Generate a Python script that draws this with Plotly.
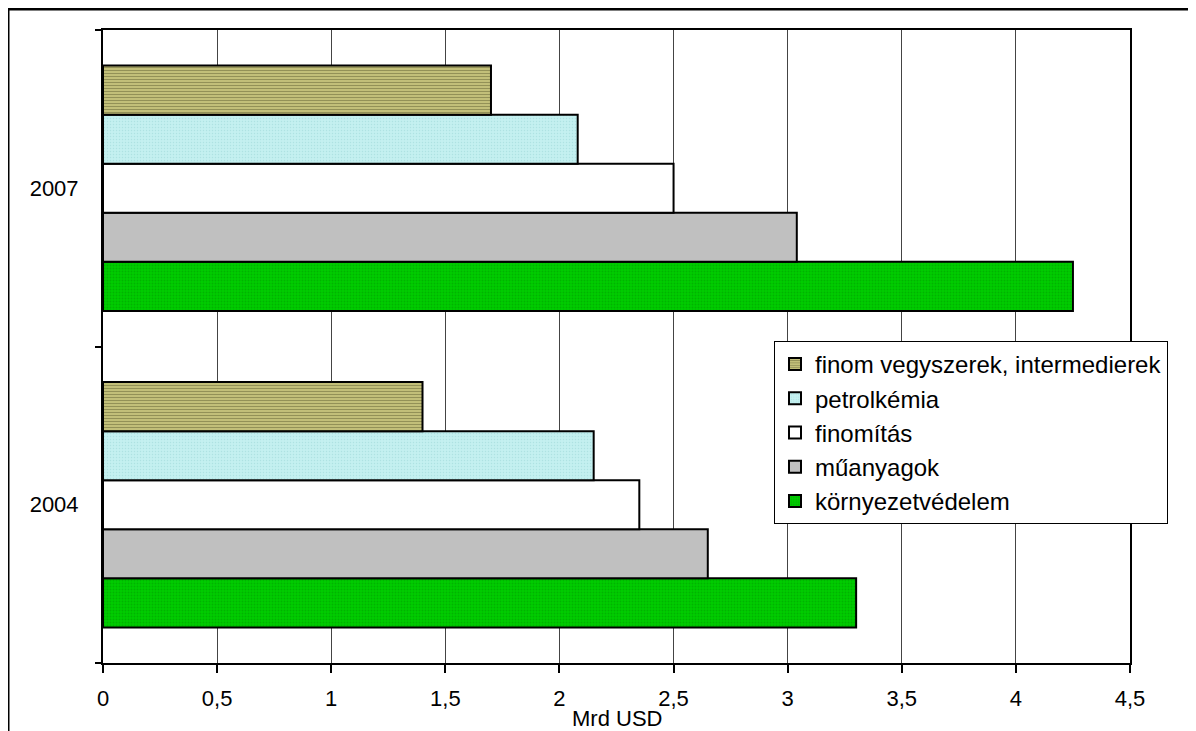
import plotly.graph_objects as go

years = ["2004", "2007"]
series_names = ["környezetvédelem", "műanyagok", "finomítás", "petrolkémia",
                "finom vegyszerek, intermedierek"]
kornyezet = [3.3, 4.25]
muanyag = [2.65, 3.04]
finomitas = [2.35, 2.5]
petrolkemia = [2.15, 2.08]
finom_vegy = [1.4, 1.7]
x_ticks = [0, 0.5, 1, 1.5, 2, 2.5, 3, 3.5, 4, 4.5]

values = [kornyezet, muanyag, finomitas, petrolkemia, finom_vegy]
colors = ["#00cc00", "#c0c0c0", "#ffffff", "#c4f0f0", "#d8d488"]
patterns = [
    dict(shape=".", fgcolor="#009a00", size=3, solidity=0.3),
    dict(shape=""),
    dict(shape=""),
    dict(shape=".", fgcolor="#98d4d4", size=3, solidity=0.2),
    dict(shape="-", fgcolor="#4e4e26", size=3, solidity=0.55),
]

fig = go.Figure()
n = len(series_names)
for i, (name, vals) in enumerate(zip(series_names, values)):
    fig.add_trace(go.Bar(
        y=years, x=vals, name=name, orientation="h",
        legendrank=(n - i) * 10,
        marker=dict(color=colors[i], pattern=patterns[i],
                    line=dict(color="black", width=2)),
    ))

# page body adds an 8px offset; plot area sits at 103..1130 x 30..663 on screen
L, T = 95, 22
PW, PH = 1027, 633
W, H = 1196, 731

font_family = "Liberation Sans, Arial, sans-serif"
fig.update_layout(
    width=W, height=H,
    margin=dict(l=L, r=W - L - PW, t=T, b=H - T - PH),
    paper_bgcolor="white", plot_bgcolor="white",
    barmode="group", bargap=0.225, bargroupgap=0,
    separators=", ",
    font=dict(family=font_family, size=22, color="black"),
    legend=dict(
        x=(774 - 103) / PW, y=(663 - 341) / PH,
        xanchor="left", yanchor="top",
        traceorder="normal",
        bordercolor="black", borderwidth=1, bgcolor="white",
        font=dict(family=font_family, size=24, color="black"),
    ),
    xaxis=dict(
        range=[0, 4.5], tickvals=x_ticks, showgrid=True,
        gridcolor="#444444", gridwidth=1, zeroline=False,
        showline=True, linecolor="black", linewidth=2, mirror=True,
        ticks="outside", ticklen=8, tickwidth=2, tickcolor="black",
        ticklabelstandoff=7,
        tickfont=dict(size=22),
    ),
    yaxis=dict(
        type="category", categoryorder="array", categoryarray=years,
        showline=True, linecolor="black", linewidth=2, mirror=True,
        ticks="outside", tickson="boundaries", ticklen=6, tickwidth=2,
        tickcolor="black", showgrid=False, ticklabelstandoff=18,
        tickfont=dict(size=22),
    ),
    showlegend=True,
)

fig.add_annotation(
    text="Mrd USD", xref="paper", yref="paper",
    x=0.5, y=(663 - 718) / PH, xanchor="center", yanchor="middle",
    showarrow=False, font=dict(family=font_family, size=22, color="black"),
)

fig.add_shape(
    type="rect", xref="paper", yref="paper",
    x0=(8 - 103) / PW, x1=1.3, y0=-0.4, y1=(663 - 9) / PH,
    line=dict(color="black", width=3), fillcolor="rgba(0,0,0,0)",
    layer="above",
)

fig.write_html("out.html")
